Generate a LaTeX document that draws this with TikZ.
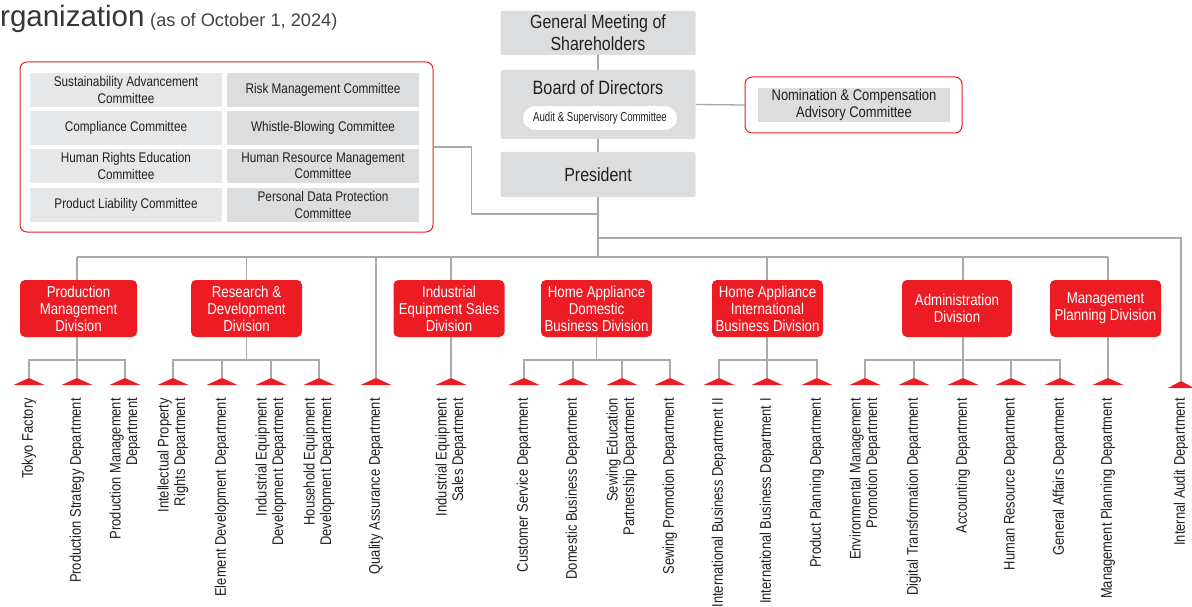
\documentclass[tikz,border=0pt]{standalone}
\usepackage{fontspec}
\setmainfont{Liberation Sans}
\newfontfamily\cnd{Liberation Sans}[FakeStretch=0.84]
\newfontfamily\cndd{Liberation Sans}[FakeStretch=0.74]
\usetikzlibrary{backgrounds}
\definecolor{sred}{HTML}{ED1C24}
\definecolor{boxgray}{HTML}{DCDDDE}
\definecolor{cellgray}{HTML}{E6E7E8}
\definecolor{linegray}{HTML}{A7A9AC}
\definecolor{txt}{HTML}{231F20}
\begin{document}
\begin{tikzpicture}[x=1pt,y=-1pt,
  topbox/.style={fill=boxgray, rounded corners=2pt, minimum width=195pt, inner sep=0pt, text=txt, align=center, font=\cnd\fontsize{19}{22}\selectfont},
  cellL/.style={fill=cellgray, minimum width=192pt, minimum height=34pt, inner sep=0pt, text=txt, align=center, font=\cnd\fontsize{14}{16.5}\selectfont},
  cellR/.style={cellL, fill=boxgray},
  redframe/.style={draw=sred, line width=1pt, rounded corners=7pt, fill=white, inner sep=0pt},
  divbox/.style={fill=sred, rounded corners=5pt, text=white, minimum width=111pt, minimum height=57pt, inner sep=0pt, align=center, font=\cnd\fontsize{15.8}{17}\selectfont},
  dept/.style={rotate=90, anchor=east, inner sep=0pt, align=right, text=txt, font=\cnd\fontsize{15.4}{16.5}\selectfont},
  conn/.style={draw=linegray, line width=1.3pt}
]
\useasboundingbox (0,0) rectangle (1192,607);

% title
\node[anchor=base west, inner sep=0pt, text=txt!90, font=\fontsize{29.5}{32}\selectfont] (title) at (0,27) {rganization};
\node[anchor=base west, inner sep=0pt, text=txt!85, font=\fontsize{18.2}{20}\selectfont] (subtitle) at (150,27) {(as of October 1, 2024)};

% top boxes
\node[topbox, minimum height=44pt] (gm) at (598,33) {General Meeting of\\Shareholders};
\node[topbox, minimum height=69pt] (board) at (598,104.5) {};
\node[inner sep=0pt, text=txt, font=\cnd\fontsize{19.3}{22}\selectfont] (boardtxt) at (598,88) {Board of Directors};
\node[fill=white, rounded corners=12pt, minimum width=154pt, minimum height=24pt, inner sep=0pt, text=txt, font=\cndd\fontsize{13}{15}\selectfont] (audit) at (600,118) {Audit \& Supervisory Committee};
\node[topbox, minimum height=45pt] (pres) at (598,174.5) {President};

% nomination
\node[redframe, minimum width=217pt, minimum height=56pt] (nom) at (853.5,105) {};
\node[cellR, minimum width=192pt, minimum height=34pt, font=\cnd\fontsize{15.4}{16.5}\selectfont] (nomtxt) at (854,105) {Nomination \& Compensation\\Advisory Committee};

% committees
\node[redframe, minimum width=413pt, minimum height=170pt] (comm) at (226.5,147) {};
\node[cellL] (c1) at (126,90) {Sustainability Advancement\\Committee};
\node[cellR] (c2) at (323,90) {Risk Management Committee};
\node[cellL] (c3) at (126,128) {Compliance Committee};
\node[cellR] (c4) at (323,128) {Whistle-Blowing Committee};
\node[cellL] (c5) at (126,166) {Human Rights Education\\Committee};
\node[cellR] (c6) at (323,166) {Human Resource Management\\Committee};
\node[cellL] (c7) at (126,205) {Product Liability Committee};
\node[cellR] (c8) at (323,205) {Personal Data Protection\\Committee};

% divisions
\node[divbox, minimum width=117pt] (pmd) at (78.5,308.5) {Production\\Management\\Division};
\node[divbox] (rd) at (246.5,308.5) {Research \&\\Development\\Division};
\node[divbox] (ies) at (449,308.5) {Industrial\\Equipment Sales\\Division};
\node[divbox] (had) at (596.5,308.5) {Home Appliance\\Domestic\\Business Division};
\node[divbox] (hai) at (767.5,308.5) {Home Appliance\\International\\Business Division};
\node[divbox, minimum width=110pt] (adm) at (957,308.5) {Administration\\Division};
\node[divbox] (mpd) at (1105.5,308.5) {Management\\Planning Division};

% departments
\foreach \n/\x/\t in {
  tf/29/{Tokyo Factory},
  psd/77/{Production Strategy Department},
  pmdd/125/{Production Management\\Department},
  ipr/173/{Intellectual Property\\Rights Department},
  edd/222/{Element Development Department},
  iedd/271/{Industrial Equipment\\Development Department},
  hedd/319/{Household Equipment\\Development Department},
  qad/376/{Quality Assurance Department},
  iesd/451/{Industrial Equipment\\Sales Department},
  csd/524/{Customer Service Department},
  dbd/573/{Domestic Business Department},
  sepd/622/{Sewing Education\\Partnership Department},
  spd/670/{Sewing Promotion Department},
  ib2/719/{International Business Department II},
  ib1/767/{International Business Department I},
  ppd/817/{Product Planning Department},
  empd/865/{Environmental Management\\Promotion Department},
  dtd/914/{Digital Transformation Department},
  acd/963/{Accounting Department},
  hrd/1011/{Human Resource Department},
  gad/1060/{General Affairs Department},
  mpdd/1108/{Management Planning Department}}{
  \coordinate (\n) at (\x,378);
  \fill[sred] (\x-15.5,385) -- (\n) -- (\x+15.5,385) -- cycle;
  \node[dept] (\n-t) at (\x,398) {\t};
}
\coordinate (iad) at (1181,381);
\fill[sred] (1181-13,388) -- (iad) -- (1181+13,388) -- cycle;
\node[dept] (iad-t) at (1181,398) {Internal Audit Department};

% bus coordinates
\coordinate (busL) at (78,257);
\coordinate (subY) at (0,360);
\coordinate (busA) at (598,238);
\coordinate (pj) at (598,214);

\begin{pgfonlayer}{background}
  \draw[conn] (gm.south) -- (board.north);
  \draw[conn] (board.south) -- (pres.north);
  \draw[conn] (board.east) -- (nom.west);
  \draw[conn] (comm.east) -- ++(38,0) |- (pj);
  \draw[conn] (pres.south) -- (pres.south |- busL);
  \draw[conn] (busA) -| (iad);
  \draw[conn] (psd |- busL) -- (mpdd |- busL);
  % production management
  \draw[conn] (psd |- busL) -- (psd);
  \draw[conn] (tf) -- (tf |- subY) -- (pmdd |- subY) -- (pmdd);
  % R&D
  \draw[conn] (rd.north |- busL) -- (rd.south |- subY);
  \draw[conn] (ipr) -- (ipr |- subY) -- (hedd |- subY) -- (hedd);
  \draw[conn] (edd) -- (edd |- subY);
  \draw[conn] (iedd) -- (iedd |- subY);
  % QA
  \draw[conn] (qad |- busL) -- (qad);
  % industrial equipment sales
  \draw[conn] (iesd |- busL) -- (iesd);
  % home appliance domestic
  \draw[conn] (had.south |- subY) -- (had.south);
  \draw[conn] (csd) -- (csd |- subY) -- (spd |- subY) -- (spd);
  \draw[conn] (dbd) -- (dbd |- subY);
  \draw[conn] (sepd) -- (sepd |- subY);
  % home appliance international
  \draw[conn] (ib1 |- busL) -- (ib1);
  \draw[conn] (ib2) -- (ib2 |- subY) -- (ppd |- subY) -- (ppd);
  % administration
  \draw[conn] (acd |- busL) -- (acd);
  \draw[conn] (empd) -- (empd |- subY) -- (gad |- subY) -- (gad);
  \draw[conn] (dtd) -- (dtd |- subY);
  \draw[conn] (hrd) -- (hrd |- subY);
  % management planning
  \draw[conn] (mpdd |- busL) -- (mpdd);
\end{pgfonlayer}
\end{tikzpicture}
\end{document}
